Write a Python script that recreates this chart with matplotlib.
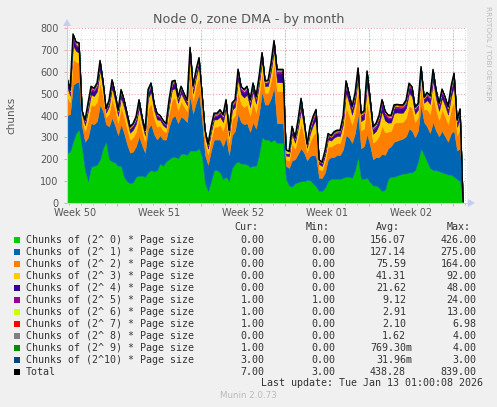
import numpy as np
import matplotlib
matplotlib.use("Agg")
import matplotlib.pyplot as plt
from matplotlib.patches import Rectangle, Polygon
from matplotlib.lines import Line2D

# ---------------- data (one sample every 6 hours, 33 days) ----------------
STEP_DAYS = 0.25

green = [227,235,280,320,335,250,150,100,165,170,
         175,200,250,280,200,190,185,170,170,120,
         100,90,95,120,125,125,120,140,150,145,
         150,180,170,190,200,210,210,205,225,225,
         220,240,240,240,250,210,90,55,100,150,
         150,140,110,120,100,160,180,190,180,180,
         175,165,170,170,220,300,290,290,280,290,
         275,275,275,110,80,75,90,95,100,100,
         105,105,90,75,55,55,70,100,110,110,
         110,110,115,120,120,115,150,210,110,110,
         115,95,80,80,70,55,60,110,120,120,
         125,130,135,135,140,140,150,190,250,220,
         190,160,150,150,145,140,135,130,130,120,
         110,100,0]
blue = [176,170,260,230,220,100,130,200,200,190,
        200,250,170,80,150,200,170,140,190,200,
        170,140,140,140,180,140,110,200,210,170,
        140,130,120,100,150,180,190,160,170,160,
        150,250,170,220,250,170,130,120,140,140,
        140,150,150,180,120,150,150,220,190,180,
        190,160,200,170,190,210,160,160,200,240,
        90,90,90,60,80,120,110,130,150,130,
        90,110,130,140,60,60,70,100,100,100,
        110,110,130,190,180,160,170,200,140,150,
        200,170,120,130,140,170,160,140,140,160,
        160,160,160,170,200,190,150,140,200,150,
        160,160,220,180,160,190,170,150,190,210,
        130,150,0]
orange = [86,54,119,95,86,35,48,80,86,84,
          88,103,67,33,60,88,74,57,79,76,
          71,59,65,67,85,65,50,91,97,72,
          59,44,42,34,60,84,81,60,69,57,
          49,114,59,76,83,59,55,47,54,59,
          59,67,71,88,55,74,72,102,83,79,
          86,74,91,74,86,89,54,54,81,109,
          147,147,147,29,34,78,48,78,115,76,
          36,67,89,110,40,34,50,59,48,57,
          55,55,76,129,103,84,93,107,81,81,
          150,111,76,77,98,128,103,76,70,86,
          84,79,77,84,107,103,70,63,88,57,
          78,87,124,97,75,98,92,81,109,136,
          70,92,0]
yellow = [45,31,62,50,46,20,27,42,45,45,
          47,54,37,20,33,47,40,31,43,41,
          38,32,35,36,45,35,28,48,51,38,
          33,25,24,20,33,45,43,33,37,32,
          28,59,32,40,44,32,31,26,30,33,
          33,37,39,46,31,40,38,54,44,43,
          45,40,48,40,46,48,30,31,43,57,
          40,40,40,18,20,42,27,42,60,40,
          21,36,47,57,23,20,28,32,27,32,
          31,31,40,66,54,45,49,56,43,43,
          77,58,40,42,51,66,54,41,38,45,
          45,43,41,45,56,54,38,34,47,31,
          42,46,64,50,41,51,49,43,57,70,
          38,49,0]
indigo = [22,15,30,24,22,10,13,20,22,21,
          22,26,18,10,16,22,19,15,21,20,
          18,16,17,18,22,17,14,23,24,18,
          16,12,12,10,16,22,21,16,18,15,
          13,28,16,19,21,16,15,13,14,16,
          16,18,19,22,15,19,18,26,21,21,
          22,19,23,19,22,23,14,15,21,27,
          40,40,40,8,10,20,13,20,29,20,
          10,18,23,27,11,10,13,15,13,15,
          15,15,20,32,26,22,24,27,21,21,
          37,28,20,20,25,32,26,20,18,22,
          21,21,20,21,27,26,18,16,22,15,
          20,22,31,24,20,25,23,21,28,34,
          18,23,0]
purple = [8,6,12,9,8,4,5,8,8,8,
          9,10,7,4,6,9,7,6,8,8,
          7,6,6,7,8,6,5,9,9,7,
          6,5,5,4,6,8,8,6,7,6,
          5,11,6,7,8,6,6,5,5,6,
          6,7,7,9,6,7,7,10,8,8,
          8,7,9,7,8,9,5,6,8,10,
          10,10,10,3,4,8,5,8,11,7,
          4,7,9,10,4,4,5,6,5,6,
          6,6,7,12,10,8,9,10,8,8,
          14,11,7,8,9,12,10,8,7,8,
          8,8,8,8,10,10,7,6,9,6,
          8,8,12,9,8,9,9,8,11,13,
          7,9,1]
lime = [3,2,4,3,10,2,2,3,3,2,
        3,3,2,2,2,3,3,2,3,3,
        2,2,2,3,3,2,2,3,3,2,
        2,2,2,2,3,3,3,2,3,2,
        2,4,3,3,3,2,2,2,2,2,
        2,3,3,3,2,3,3,4,3,3,
        3,2,3,2,3,3,2,2,3,4,
        3,3,3,13,6,3,2,3,4,3,
        2,3,3,3,2,2,2,2,2,2,
        2,2,3,4,3,3,3,3,3,3,
        4,3,2,3,3,4,3,3,3,3,
        3,3,3,3,3,3,2,2,3,2,
        3,3,4,3,3,3,3,3,3,4,
        2,3,1]
red = [2,2,3,2,3,1,2,2,2,2,
       2,3,2,1,2,2,2,2,2,2,
       2,2,2,2,2,2,2,2,2,2,
       2,2,2,1,2,2,2,2,2,2,
       2,3,7,2,3,2,2,1,2,2,
       2,2,2,2,2,2,2,3,2,2,
       2,2,2,2,2,3,2,2,2,3,
       3,3,3,2,2,2,2,2,7,2,
       1,2,2,3,2,1,2,2,2,2,
       2,2,2,3,2,2,2,2,2,2,
       3,2,2,2,2,3,2,2,2,2,
       2,2,2,2,2,2,2,2,2,2,
       2,2,3,2,2,2,2,2,2,3,
       2,2,1]
grey = [2,1,2,2,2,1,1,2,2,2,
        2,2,2,1,1,2,2,1,2,2,
        2,1,1,1,2,1,1,2,2,2,
        1,1,1,1,2,2,2,1,2,1,
        1,2,2,2,2,1,1,1,1,2,
        2,2,2,2,1,2,2,2,2,2,
        2,2,2,2,2,2,1,1,2,2,
        2,2,2,1,1,2,1,2,2,2,
        1,2,2,2,1,1,1,1,1,1,
        1,1,2,2,2,2,2,2,2,2,
        3,2,2,2,2,2,2,2,2,2,
        2,2,2,2,2,2,2,1,2,1,
        2,2,2,2,2,2,2,2,2,3,
        2,2,0]
dkgreen = [1,1,1,1,1,0,1,1,1,1,
           1,1,1,0,1,1,1,1,1,1,
           1,1,1,1,1,1,0,1,1,1,
           1,0,1,0,1,1,1,1,1,1,
           0,1,1,1,1,1,1,0,1,1,
           1,1,1,1,1,1,1,1,1,1,
           1,1,1,1,1,1,1,1,1,1,
           1,1,1,0,0,1,1,1,1,1,
           0,1,1,1,0,0,1,1,1,1,
           1,1,1,1,1,1,1,1,1,1,
           1,1,1,1,1,1,1,1,1,1,
           1,1,1,1,1,1,1,1,1,1,
           1,1,1,1,1,1,1,1,1,1,
           1,1,1]
navy = [0,0,0,0,0,0,0,0,0,0,
        0,0,0,0,0,0,0,0,0,0,
        0,0,0,0,0,0,0,0,0,0,
        0,0,0,0,0,0,0,0,0,0,
        0,0,0,0,0,0,0,0,0,0,
        0,0,0,0,0,0,0,0,0,0,
        0,0,0,0,0,0,0,0,0,0,
        0,0,0,0,0,0,0,0,0,0,
        0,0,0,0,0,0,0,0,0,0,
        0,0,0,0,0,0,0,0,0,0,
        0,0,0,0,0,0,0,0,0,0,
        0,0,0,0,0,0,0,0,0,0,
        0,0,0,0,0,0,0,0,0,0,
        0,0,3]

series_labels = ["Chunks of (2^ 0) * Page size", "Chunks of (2^ 1) * Page size",
                 "Chunks of (2^ 2) * Page size", "Chunks of (2^ 3) * Page size",
                 "Chunks of (2^ 4) * Page size", "Chunks of (2^ 5) * Page size",
                 "Chunks of (2^ 6) * Page size", "Chunks of (2^ 7) * Page size",
                 "Chunks of (2^ 8) * Page size", "Chunks of (2^ 9) * Page size",
                 "Chunks of (2^10) * Page size", "Total"]
cur_vals = ["0.00","0.00","0.00","0.00","0.00","1.00","1.00","1.00","0.00","1.00","3.00","7.00"]
min_vals = ["0.00","0.00","0.00","0.00","0.00","1.00","0.00","0.00","0.00","0.00","0.00","3.00"]
avg_vals = ["156.07","127.14","75.59","41.31","21.62","9.12","2.91","2.10","1.62","769.30m","31.96m","438.28"]
max_vals = ["426.00","275.00","164.00","92.00","48.00","24.00","13.00","6.98","4.00","4.00","3.00","839.00"]

week_labels = ["Week 50", "Week 51", "Week 52", "Week 01", "Week 02"]
FIRST_WEEK_START = 50/12.0   # days from graph start to the first Monday shown
Y_MAX = 800
SPAN_DAYS = 400/12.0

colors = ["#00CC00", "#0066B3", "#FF8000", "#FFCC00", "#330099", "#990099",
          "#CCFF00", "#FF0000", "#808080", "#008F00", "#00487D", "#000000"]

layers = [green, blue, orange, yellow, indigo, purple, lime, red, grey, dkgreen, navy]
layers = [np.asarray(l, dtype=float) for l in layers]
total = np.sum(layers, axis=0)
x = np.arange(len(green)) * STEP_DAYS

# ---------------- figure ----------------
W, H = 497, 407
BG = "#F0F0F0"
fig = plt.figure(figsize=(W/100, H/100), dpi=100, facecolor=BG)

def fx(px): return px / W
def fy(py): return 1 - py / H

L, R, T, B = 67, 467, 28, 203
ax = fig.add_axes([fx(L), fy(B), (R-L)/W, (B-T)/H])
ax.set_facecolor("white")
ax.set_xlim(0, SPAN_DAYS)
ax.set_ylim(0, Y_MAX)
for s in ax.spines.values():
    s.set_visible(False)

# grid
minor_col = "#C8C8C8"
major_col = "#E39A9A"
dot = (0, (1, 2))
for v in range(50, Y_MAX + 1, 100):
    ax.axhline(v, color=minor_col, lw=0.6, ls=dot, zorder=1)
for v in range(100, Y_MAX + 1, 100):
    ax.axhline(v, color=major_col, lw=0.7, ls=dot, zorder=1)
day = FIRST_WEEK_START - 7
while day < SPAN_DAYS:
    if day > 0:
        ax.axvline(day, color=minor_col, lw=0.6, ls=dot, zorder=1)
    day += 1
week_pos = [FIRST_WEEK_START + 7*k for k in range(len(week_labels))]
for d in week_pos:
    ax.axvline(d, color=major_col, lw=0.7, ls=dot, zorder=1)

# stacked areas
lower = np.zeros_like(total)
for vals, c in zip(layers, colors[:-1]):
    upper = lower + vals
    ax.fill_between(x, lower, upper, color=c, lw=0.3, edgecolor=c, zorder=2)
    lower = upper
ax.plot(x, total, color="black", lw=1.0, zorder=3)

# ticks
ax.set_yticks(range(0, Y_MAX + 1, 100))
ax.set_yticklabels([str(v) for v in range(0, Y_MAX + 1, 100)])
ax.tick_params(axis="y", length=2, width=0.6, color=major_col, pad=4,
               labelsize=7, labelcolor="#555555", direction="out")
ax.set_xticks(week_pos)
ax.set_xticklabels([])
ax.tick_params(axis="x", length=2.5, width=0.6, color=major_col, direction="out")
ax.set_xticks([FIRST_WEEK_START - 7 + k for k in range(0, 41) if 0 < FIRST_WEEK_START - 7 + k < SPAN_DAYS], minor=True)
ax.tick_params(axis="x", which="minor", length=1.5, width=0.5, color="#B0B0B0")

# week labels centred in each week
for k, lab in enumerate(week_labels):
    cx = L + (week_pos[k] - 3.5) * 12
    fig.text(fx(cx), fy(212.5), lab, ha="center", va="center", fontsize=7, color="#555555")

# axis lines with arrows
ax_col = "#C5CDF5"
fig.add_artist(Line2D([fx(L), fx(R + 2)], [fy(B), fy(B)], color=ax_col, lw=0.8))
fig.add_artist(Line2D([fx(L), fx(L)], [fy(B), fy(T - 3)], color=ax_col, lw=0.8))
fig.add_artist(Polygon([[fx(R+1), fy(B-4)], [fx(R+1), fy(B+4)], [fx(R+8), fy(B)]],
                       closed=True, transform=fig.transFigure, color=ax_col, lw=0))
fig.add_artist(Polygon([[fx(L-4), fy(T-2)], [fx(L+4), fy(T-2)], [fx(L), fy(T-9)]],
                       closed=True, transform=fig.transFigure, color=ax_col, lw=0))

# title and labels
fig.text(fx(248.5), fy(19.5), "Node 0, zone DMA - by month", ha="center", va="center",
         fontsize=9.2, color="#555555")
fig.text(fx(11), fy(115), "chunks", ha="center", va="center", rotation=90,
         fontsize=7.5, color="#555555")
fig.text(fx(488), fy(6), "RRDTOOL / TOBI OETIKER", ha="center", va="top", rotation=270,
         fontsize=5.3, color="#BBBBBB")

# legend
mono = "DejaVu Sans Mono"
tc = "#333333"
fs = 7.2
hdr_y = 227.3
for txt, rx in [("Cur:", 258.5), ("Min:", 329.5), ("Avg:", 399.5), ("Max:", 470.5)]:
    fig.text(fx(rx), fy(hdr_y), txt, ha="right", va="center", family=mono, fontsize=fs, color=tc)

def put_val(s, rx, yy):
    if s.endswith("m"):
        fig.text(fx(rx), fy(yy), s[:-1], ha="right", va="center", family=mono, fontsize=fs, color=tc)
        fig.text(fx(rx), fy(yy), "m", ha="left", va="center", family=mono, fontsize=fs, color=tc)
    else:
        fig.text(fx(rx), fy(yy), s, ha="right", va="center", family=mono, fontsize=fs, color=tc)

for i, lab in enumerate(series_labels):
    yy = 239.7 + 12 * i
    fig.add_artist(Rectangle((fx(14), fy(yy + 3)), 6/W, 6/H, transform=fig.transFigure,
                             facecolor=colors[i], edgecolor="none"))
    fig.text(fx(26), fy(yy), lab, ha="left", va="center", family=mono, fontsize=fs, color=tc)
    put_val(cur_vals[i], 264.7, yy)
    put_val(min_vals[i], 335.7, yy)
    put_val(avg_vals[i], 406.0, yy)
    put_val(max_vals[i], 476.7, yy)

fig.text(fx(482.7), fy(383.3), "Last update: Tue Jan 13 01:00:08 2026", ha="right", va="center",
         family=mono, fontsize=fs, color=tc)
fig.text(fx(248), fy(396), "Munin 2.0.73", ha="center", va="center", fontsize=6.3, color="#BBBBBB")

fig.savefig("out.png", dpi=100, facecolor=BG)
